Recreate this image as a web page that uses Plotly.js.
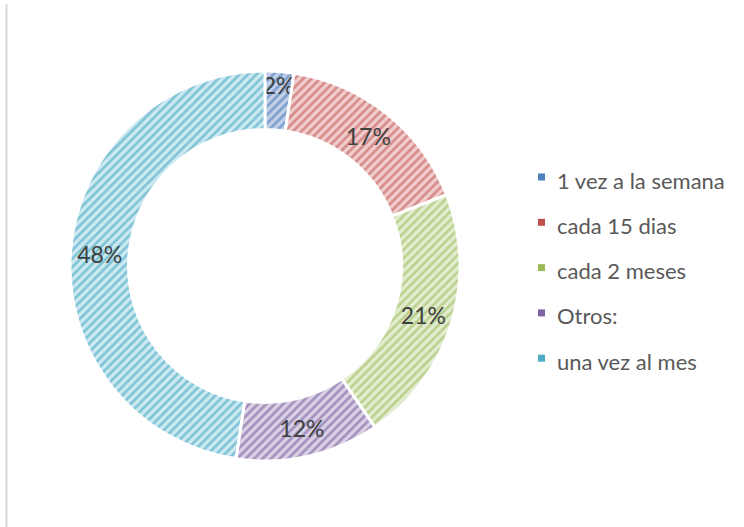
<!DOCTYPE html>
<html>
<head>
<meta charset="utf-8">
<script src="https://cdn.plot.ly/plotly-3.0.1.min.js"></script>
<style>html,body{margin:0;padding:0;background:#fff;}#chart{width:744px;height:527px;}</style>
</head>
<body>
<div id="chart"></div>
<script>
var categories = ["1 vez a la semana", "cada 15 dias", "cada 2 meses", "Otros:", "una vez al mes"];
var values = [1, 7, 9, 5, 20];
var baseColors = ["#4F81BD", "#C0504D", "#9BBB59", "#8064A2", "#4BACC6"];
var stripeColors = ["#7d9fce", "#d58b89", "#bbd18f", "#a390bd", "#7fc3d6"];
var lightColors = ["#c3d2ea", "#f0cecd", "#e3edd0", "#dad2e6", "#cdeaf2"];

var trace = {
  type: "pie",
  labels: categories,
  values: values,
  sort: false,
  direction: "clockwise",
  rotation: 0,
  hole: 0.70,
  domain: {x: [70/744, 460/744], y: [66/527, 456/527]},
  marker: {
    colors: lightColors,
    line: {color: "#ffffff", width: 3},
    pattern: {shape: "/", fgcolor: stripeColors, bgcolor: lightColors, size: 6, solidity: 0.45}
  },
  texttemplate: "%{percent:.0%}",
  textposition: "inside",
  insidetextorientation: "horizontal",
  textfont: {family: "Lato, 'Open Sans', sans-serif", size: 23, color: "#404040"},
  showlegend: false,
  hoverinfo: "label+percent"
};

var annotations = [];
var shapes = [];
var legTop = 180, legGap = 45.3;
for (var i = 0; i < categories.length; i++) {
  var yc = legTop + i * legGap;
  annotations.push({
    xref: "paper", yref: "paper",
    x: 555/744, y: 1 - yc/527,
    xanchor: "left", yanchor: "middle",
    text: categories[i], showarrow: false,
    font: {family: "Lato, 'Open Sans', sans-serif", size: 22, color: "#595959"}
  });
  shapes.push({
    type: "rect", xref: "paper", yref: "paper",
    x0: 538/744, x1: 545/744, y0: 1 - (yc - 6.5)/527, y1: 1 - (yc + 0.5)/527,
    fillcolor: baseColors[i], line: {width: 0}
  });
}
shapes.push({
  type: "line", xref: "paper", yref: "paper",
  x0: 6.5/744, x1: 6.5/744, y0: 0, y1: 1 - 4/527,
  line: {color: "#d9d9d9", width: 2}
});

var layout = {
  width: 744, height: 527,
  margin: {l: 0, r: 0, t: 0, b: 0},
  paper_bgcolor: "#ffffff",
  showlegend: false,
  uniformtext: {minsize: 23, mode: "show"},
  annotations: annotations,
  shapes: shapes
};

Plotly.newPlot("chart", [trace], layout, {displayModeBar: false, staticPlot: true});
</script>
</body>
</html>
